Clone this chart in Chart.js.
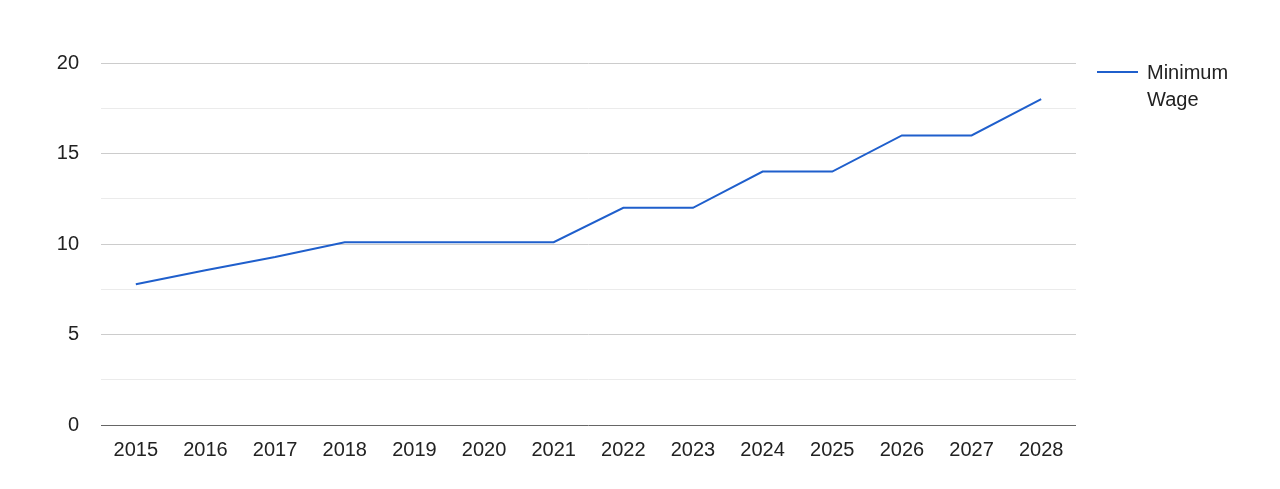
<!DOCTYPE html>
<html>
<head>
<meta charset="utf-8">
<script src="https://cdn.jsdelivr.net/npm/chart.js@4/dist/chart.umd.min.js"></script>
<style>
  body { margin: 0; background: #fff; }
  #wrap { position: relative; width: 1280px; height: 489px; }
  #legend { position: absolute; left: 1097px; top: 59px; font: 20px "Liberation Sans", Arial, sans-serif; color: #222; line-height: 27px; }
  #legend .swatch { position: absolute; left: 0; top: 12px; width: 41px; height: 2px; background: #1f5fcc; }
  #legend .txt { margin-left: 50px; }
</style>
</head>
<body>
<div id="wrap">
  <canvas id="wageChart" width="1280" height="489"></canvas>
  <div id="legend"><div class="swatch"></div><div class="txt">Minimum<br>Wage</div></div>
</div>
<script>
// data
const years = ['2015', '2016', '2017', '2018', '2019', '2020', '2021', '2022', '2023', '2024', '2025', '2026', '2027', '2028'];
const minimumWage = [7.78, 8.55, 9.28, 10.1, 10.1, 10.1, 10.1, 12, 12, 14, 14, 16, 16, 18];
const yTicks = [0, 5, 10, 15, 20];

const ctx = document.getElementById('wageChart').getContext('2d');
const wageChart = new Chart(ctx, {
  type: 'line',
  data: {
    labels: years,
    datasets: [{
      label: 'Minimum Wage',
      data: minimumWage,
      borderColor: '#1f5fcc',
      borderWidth: 2,
      pointRadius: 0,
      tension: 0,
      fill: false
    }]
  },
  options: {
    responsive: false,
    animation: false,
    layout: { padding: { top: 63, right: 204, left: 0, bottom: 0 } },
    plugins: {
      legend: { display: false },
      tooltip: { enabled: false }
    },
    scales: {
      x: {
        offset: true,
        grid: { display: false, drawTicks: false },
        border: { display: false },
        ticks: { color: '#222', font: { family: 'Liberation Sans', size: 20 }, padding: 13, maxRotation: 0 },
        afterFit: s => { s.height = 64; }
      },
      y: {
        min: 0,
        max: 20,
        ticks: {
          stepSize: 2.5,
          color: '#222',
          font: { family: 'Liberation Sans', size: 20 },
          padding: 22,
          callback: v => yTicks.includes(v) ? v : ''
        },
        grid: {
          drawTicks: false,
          color: c => c.tick.value === 0 ? '#666' : (yTicks.includes(c.tick.value) ? '#cccccc' : '#ebebeb'),
          lineWidth: 1
        },
        border: { display: false },
        afterFit: s => { s.width = 101; }
      }
    }
  }
});
</script>
</body>
</html>
